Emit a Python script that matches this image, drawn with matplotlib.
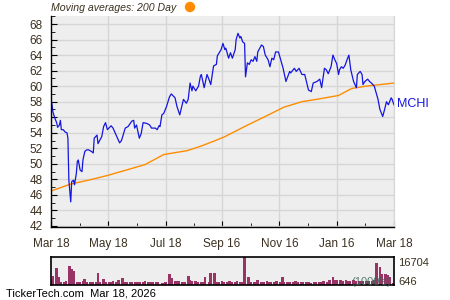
import datetime as dt
import numpy as np
import pandas as pd
import matplotlib
matplotlib.use("Agg")
import matplotlib.pyplot as plt
import matplotlib.dates as mdates
from matplotlib.ticker import MultipleLocator

# price trace: days after start date, close value
start = dt.date(2025, 3, 18)
end = dt.date(2026, 3, 18)

price_days = [0, 1, 2, 4, 6, 7, 9, 10, 11, 13, 15, 17, 18, 19, 21, 22, 24, 25, 27, 28,
              29, 31, 33, 34, 36, 38, 40, 43, 45, 46, 49, 50, 54, 56, 58, 60, 64, 66, 70, 73,
              75, 79, 82, 86, 88, 89, 91, 94, 96, 98, 102, 105, 107, 111, 113, 115, 116, 118, 120, 123,
              126, 128, 132, 134, 137, 141, 144, 146, 148, 150, 151, 154, 157, 159, 160, 163, 166, 168, 170, 173,
              176, 177, 179, 181, 183, 185, 186, 189, 191, 193, 196, 197, 199, 201, 202, 204, 206, 207, 209, 211,
              213, 215, 217, 219, 220, 224, 226, 228, 230, 231, 233, 235, 237, 239, 242, 243, 247, 250, 254, 255,
              259, 261, 264, 267, 270, 274, 277, 279, 283, 286, 288, 291, 293, 295, 298, 300, 302, 304, 306, 307,
              309, 311, 313, 315, 317, 319, 322, 325, 326, 329, 331, 332, 334, 337, 339, 341, 344, 347, 348, 350,
              353, 355, 357, 359, 362, 363, 365]
price_vals = [58.2, 57.7, 56.7, 55.9, 55.3, 54.7, 55.0, 55.6, 54.4, 54.4, 54.1, 54.0, 53.3, 47.9, 45.1, 47.7, 47.9, 47.3, 48.8, 50.3,
              50.5, 49.2, 49.0, 50.5, 51.6, 51.8, 51.8, 51.6, 51.4, 53.3, 53.7, 52.6, 53.5, 54.8, 55.3, 54.4, 54.9, 54.6, 53.5, 52.7,
              53.0, 54.6, 54.8, 55.5, 55.6, 54.6, 55.0, 53.3, 53.9, 55.3, 55.2, 55.0, 54.6, 54.6, 54.4, 54.9, 54.8, 56.3, 56.5, 57.4,
              58.6, 59.0, 58.5, 57.4, 56.3, 58.3, 57.8, 58.3, 60.4, 59.4, 60.0, 59.4, 60.0, 61.3, 61.5, 59.8, 61.5, 60.9, 60.2, 62.6,
              62.8, 63.9, 64.3, 64.7, 65.5, 64.7, 64.9, 63.6, 64.3, 63.6, 64.7, 66.0, 66.8, 66.2, 66.4, 65.7, 65.5, 61.2, 63.0, 62.8,
              63.4, 63.2, 63.8, 63.2, 64.4, 65.3, 65.1, 64.0, 63.6, 63.4, 62.5, 63.6, 63.4, 64.4, 64.4, 64.0, 62.3, 60.6, 61.9, 61.7,
              62.3, 61.9, 62.3, 61.5, 61.5, 59.5, 59.3, 60.4, 60.6, 60.9, 59.8, 62.3, 62.1, 61.6, 62.5, 64.0, 63.4, 62.9, 61.5, 62.1,
              62.5, 62.3, 62.7, 63.4, 64.0, 62.1, 60.6, 59.8, 61.5, 61.9, 61.5, 60.2, 60.6, 60.9, 60.6, 60.4, 60.0, 58.7, 58.3, 57.0,
              56.1, 57.0, 58.0, 57.6, 58.5, 58.3, 57.6]

# 200 day moving average
ma_days = [0, 21, 40, 60, 80, 100, 120, 130, 145, 160, 175, 185, 206, 228, 248, 267, 285, 306, 320, 335, 350, 365]
ma_vals = [46.5, 47.4, 47.9, 48.5, 49.2, 49.9, 51.2, 51.4, 51.7, 52.3, 53.0, 53.5, 54.8, 56.1, 57.3, 58.0, 58.35, 58.8, 59.7, 60.0, 60.2, 60.4]

# volume (thousands), one bar every second trading day
volume = [3900, 5800, 10200, 5400, 2600, 2600, 3100, 11500, 9600, 8900,
          2600, 2600, 2800, 3900, 2200, 2200, 2600, 2600, 7700, 2600,
          3900, 2600, 2600, 2600, 2800, 2400, 3400, 4500, 2200, 2200,
          2400, 2200, 2200, 2400, 2600, 2600, 2800, 2600, 2400, 2600,
          2600, 2200, 2000, 2000, 2200, 6950, 4500, 3100, 3100, 3100,
          2400, 2600, 5800, 3600, 3100, 3100, 2600, 2600, 2400, 5400,
          2600, 7300, 7300, 2600, 2600, 2800, 2600, 2200, 3000, 2200,
          2400, 3200, 2200, 2400, 16704, 5400, 2600, 2400, 2600, 3400,
          2400, 2600, 3200, 2400, 2600, 2200, 2800, 2600, 5000, 2600,
          2400, 2200, 2600, 3000, 2200, 2400, 2200, 2600, 2200, 2000,
          2400, 2200, 2400, 2600, 3000, 2600, 3400, 5400, 3500, 3400,
          3800, 3200, 3500, 3100, 3000, 3300, 3100, 3000, 3200, 3100,
          3000, 3200, 3100, 3400, 13100, 11150, 6950, 6950, 6400, 5000,
          1600]
vol_min, vol_max = 646, 16704

tick_dates = [dt.date(2025, 3, 18), dt.date(2025, 5, 18), dt.date(2025, 7, 18), dt.date(2025, 9, 16),
              dt.date(2025, 11, 16), dt.date(2026, 1, 16), dt.date(2026, 3, 18)]

text_col = "#3b3020"
bg = "#eeeeee"
grid_col = "#d6d6d6"
font = "Liberation Sans"

price_dates = [start + dt.timedelta(days=d) for d in price_days]
ma_dates = [start + dt.timedelta(days=d) for d in ma_days]
vol_dates = pd.bdate_range(start, end)[::2]
n = min(len(vol_dates), len(volume))
vol_dates = vol_dates[:n]
volume = volume[:n]

fig = plt.figure(figsize=(4.5, 3), dpi=100)
ax = fig.add_axes([51 / 450, 1 - 227 / 300, 343 / 450, 211 / 300])
ax.set_facecolor(bg)
ax.plot(ma_dates, ma_vals, color="#ff8c00", lw=1)
ax.plot(price_dates, price_vals, color="#1515e0", lw=0.9)
ax.set_xlim(start, end)
ax.set_ylim(41.87, 69.03)

ax.yaxis.set_major_locator(MultipleLocator(2))
ax.yaxis.set_minor_locator(MultipleLocator(1))
ax.set_xticks([mdates.date2num(d) for d in tick_dates])
minor = [(mdates.date2num(a) + mdates.date2num(b)) / 2 for a, b in zip(tick_dates[:-1], tick_dates[1:])]
ax.set_xticks(minor, minor=True)
ax.xaxis.set_major_formatter(mdates.DateFormatter("%b %d"))
ax.grid(True, which="major", color=grid_col, lw=1)
ax.set_axisbelow(True)
ax.tick_params(which="both", direction="in", colors="black", labelcolor=text_col, labelsize=8.5)
ax.tick_params(which="major", length=4)
ax.tick_params(which="minor", length=3)
ax.tick_params(axis="y", pad=6)
ax.tick_params(axis="x", pad=8)
for lab in ax.get_xticklabels() + ax.get_yticklabels():
    lab.set_fontfamily(font)
ax.spines["top"].set_visible(False)
ax.spines["right"].set_color(grid_col)
for s in ("left", "bottom"):
    ax.spines[s].set_color("black")
    ax.spines[s].set_linewidth(1)

ax.text(1.01, (57.7 - 41.87) / (69.03 - 41.87), "MCHI", transform=ax.transAxes, color="#1515e0",
        fontsize=9, va="center", ha="left", family=font)

vax = fig.add_axes([51 / 450, 1 - 285 / 300, 343 / 450, 28 / 300])
vax.set_facecolor(bg)
vax.bar(vol_dates, [v - vol_min for v in volume], bottom=vol_min, width=2.9, color="#993366", linewidth=0)
vax.set_xlim(start, end)
vax.set_ylim(vol_min, vol_max)
vax.set_xticks([])
vax.set_yticks([])
for s in vax.spines.values():
    s.set_color("black")
    s.set_linewidth(1.2)
vax.text(1.012, 0.8, "16704", transform=vax.transAxes, fontsize=8, color=text_col, va="center", family=font)
vax.text(1.012, 0.12, "646", transform=vax.transAxes, fontsize=8, color=text_col, va="center", family=font)
vax.text(0.99, 0.12, "(1000's)", transform=vax.transAxes, fontsize=8, color="#3a6a58", va="center",
         ha="right", family=font, alpha=0.85)

fig.text(51 / 450, 1 - 8 / 300, "Moving averages: 200 Day", fontsize=7.6, style="italic", color=text_col,
         va="center", ha="left", family=font)
fig.patches.append(matplotlib.patches.Ellipse((190 / 450, 1 - 7 / 300), 9 / 450, 9 / 300,
                                              transform=fig.transFigure, color="#ff8c00"))
fig.text(6 / 450, 1 - 294 / 300, "TickerTech.com  Mar 18, 2026", fontsize=8, color="black",
         va="center", ha="left", family=font)

fig.savefig("out.png", dpi=100)
